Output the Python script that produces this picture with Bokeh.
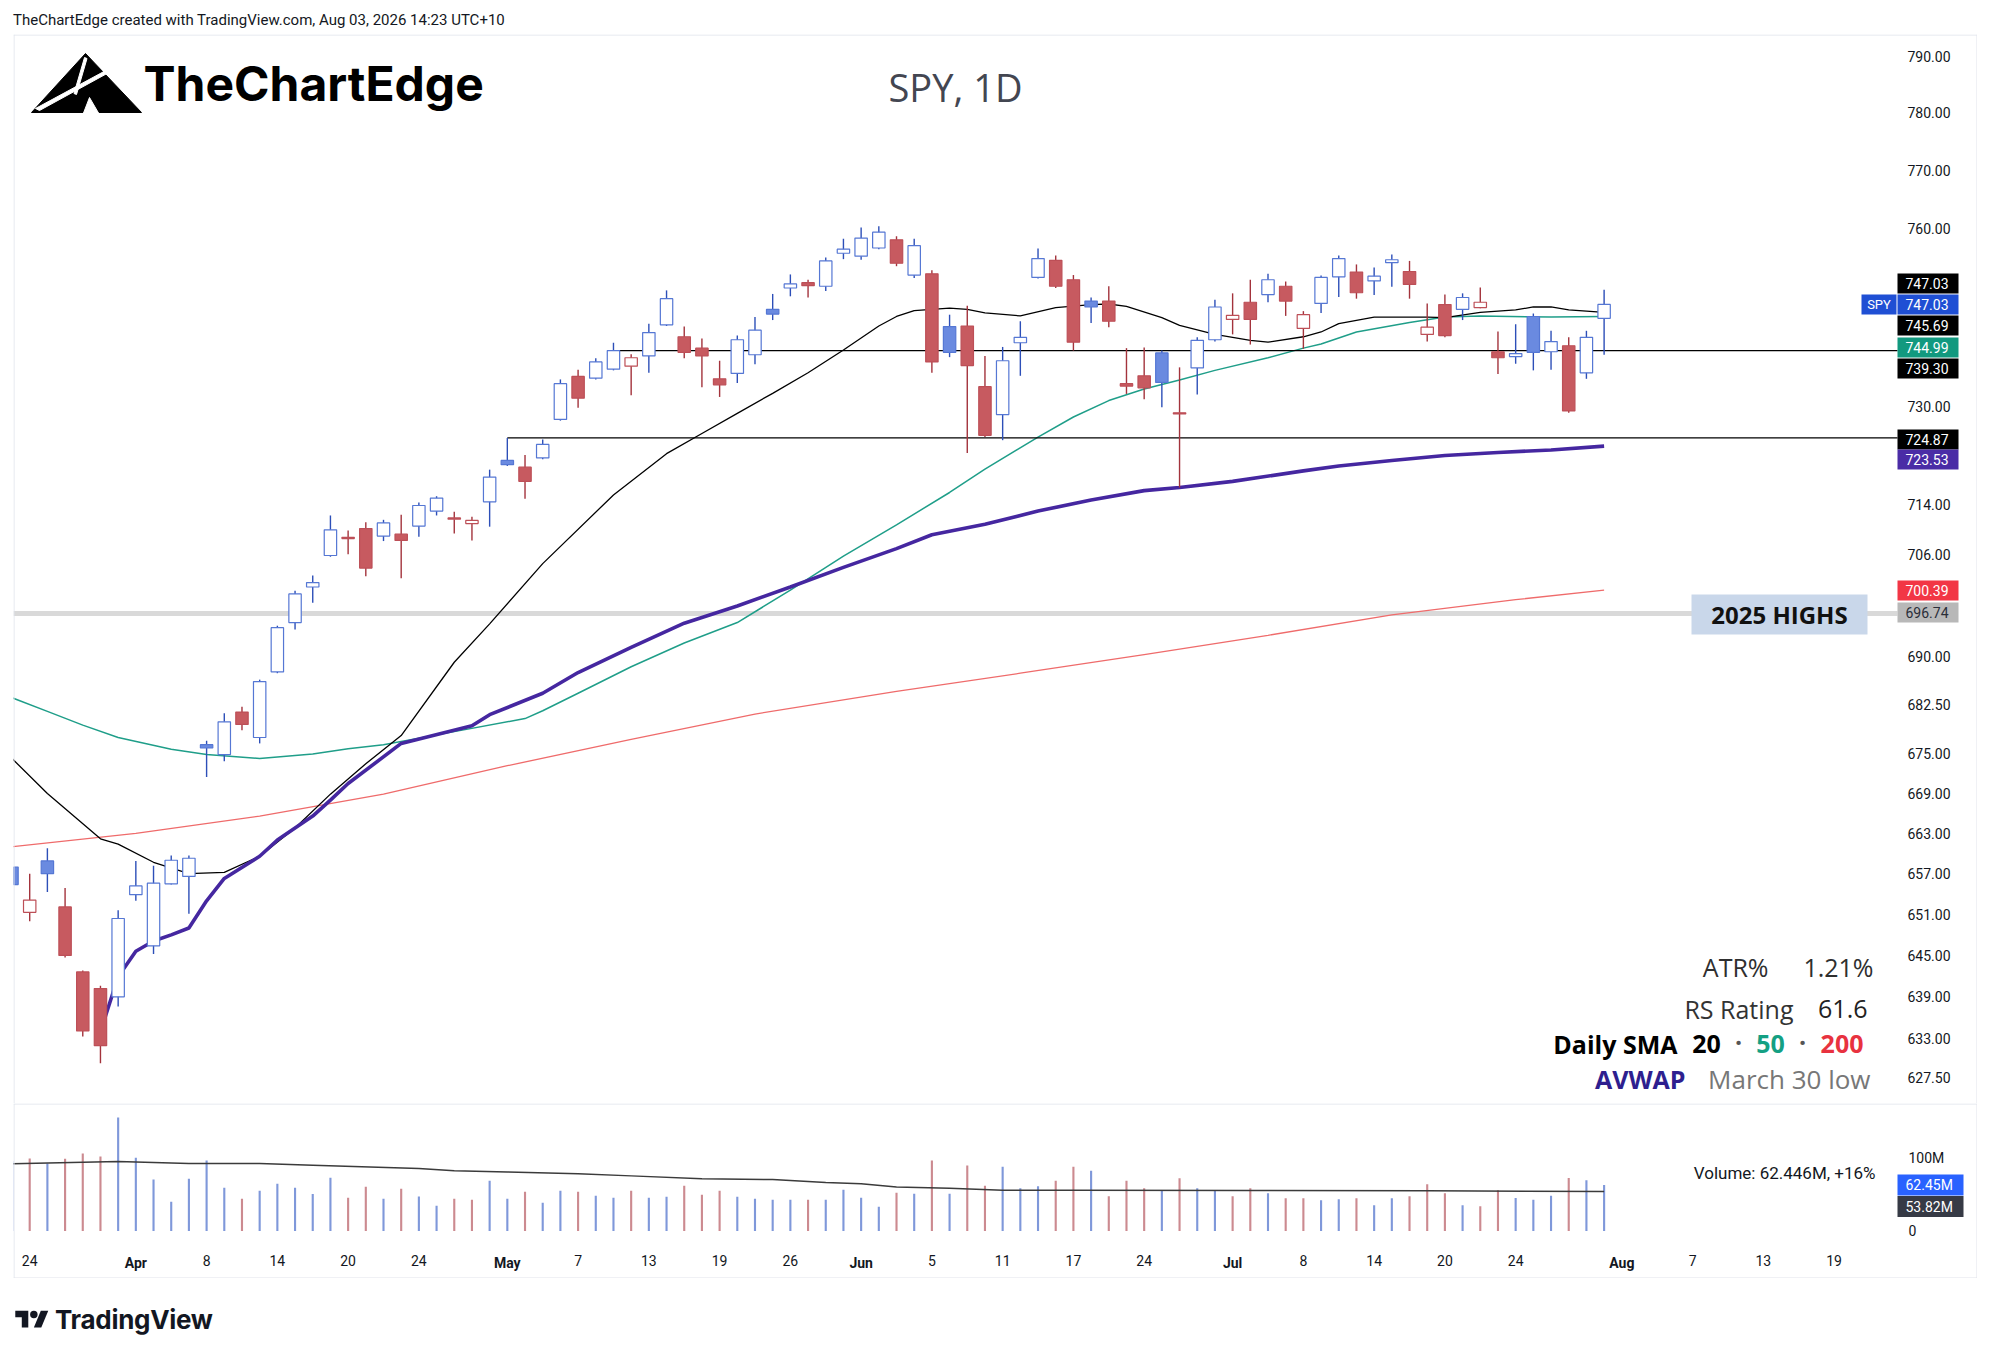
import numpy as np
from bokeh.plotting import figure
from bokeh.models import (Range1d, FixedTicker, NumeralTickFormatter, Label, Span,
                          BoxAnnotation, Div, ColumnDataSource, LinearAxis)
from bokeh.layouts import column
from bokeh.embed import file_html
from bokeh.resources import INLINE
from bokeh.core.properties import value

# ---------------- data ----------------
dates = ["2026-03-23","2026-03-24","2026-03-25","2026-03-26","2026-03-27","2026-03-30","2026-03-31",
         "2026-04-01","2026-04-02","2026-04-06","2026-04-07","2026-04-08","2026-04-09","2026-04-10",
         "2026-04-13","2026-04-14","2026-04-15","2026-04-16","2026-04-17","2026-04-20","2026-04-21",
         "2026-04-22","2026-04-23","2026-04-24","2026-04-27","2026-04-28","2026-04-29","2026-04-30",
         "2026-05-01","2026-05-04","2026-05-05","2026-05-06","2026-05-07","2026-05-08","2026-05-11",
         "2026-05-12","2026-05-13","2026-05-14","2026-05-15","2026-05-18","2026-05-19","2026-05-20",
         "2026-05-21","2026-05-22","2026-05-26","2026-05-27","2026-05-28","2026-05-29","2026-06-01",
         "2026-06-02","2026-06-03","2026-06-04","2026-06-05","2026-06-08","2026-06-09","2026-06-10",
         "2026-06-11","2026-06-12","2026-06-15","2026-06-16","2026-06-17","2026-06-18","2026-06-22",
         "2026-06-23","2026-06-24","2026-06-25","2026-06-26","2026-06-29","2026-06-30","2026-07-01",
         "2026-07-02","2026-07-06","2026-07-07","2026-07-08","2026-07-09","2026-07-10","2026-07-13",
         "2026-07-14","2026-07-15","2026-07-16","2026-07-17","2026-07-20","2026-07-21","2026-07-22",
         "2026-07-23","2026-07-24","2026-07-27","2026-07-28","2026-07-29","2026-07-30","2026-07-31"]

opens = [658.0,651.3,658.9,652.1,642.6,640.2,639.0,653.9,646.4,655.5,656.6,676.4,674.9,681.4,677.5,
         687.6,695.3,700.9,705.9,708.6,710.2,709.0,709.3,710.6,713.0,711.7,711.0,714.5,721.2,720.1,
         721.6,727.9,735.0,734.7,736.2,736.7,738.4,743.6,741.6,739.7,734.6,735.5,738.6,746.2,749.8,
         750.7,750.1,755.7,755.2,756.6,758.0,752.0,752.2,743.3,743.4,733.3,728.7,740.6,751.6,754.5,
         751.2,747.6,747.6,733.8,735.1,738.9,729.0,736.4,741.1,744.5,747.4,748.7,750.1,743.0,747.2,
         751.7,752.5,751.0,754.1,752.6,742.0,747.0,746.2,746.5,739.1,738.3,745.0,739.1,740.1,735.6,744.7]
highs = [659.0,657.0,660.8,654.9,642.8,640.6,651.6,658.9,658.2,659.7,659.7,677.0,681.2,682.2,686.4,
         694.8,700.3,702.7,712.3,709.9,711.2,711.6,712.4,714.4,715.4,712.9,712.1,719.7,724.87,722.1,
         724.6,734.5,736.1,738.0,740.6,738.7,743.8,749.4,743.3,741.3,737.6,741.8,744.9,748.8,752.1,
         751.2,755.0,758.2,760.1,760.3,758.6,758.2,752.8,745.3,746.8,738.4,739.9,744.2,756.5,755.3,
         752.0,748.2,750.1,739.7,739.8,739.3,736.5,741.5,747.8,748.9,751.2,752.2,750.9,745.9,751.9,
         755.3,753.8,753.3,755.5,754.4,747.2,748.7,748.9,749.9,742.5,743.7,745.5,742.6,741.5,742.6,749.5]
lows = [654.5,650.0,654.3,644.7,633.3,629.5,637.6,653.0,645.2,655.4,651.1,671.5,673.9,678.6,676.6,
        687.4,694.2,698.4,705.7,706.1,702.6,708.2,702.3,708.9,712.3,709.4,708.3,710.5,720.3,715.0,
        721.4,727.7,729.8,734.5,736.0,731.9,735.6,743.4,738.0,733.2,731.6,733.9,737.0,744.4,748.4,
        748.2,749.3,754.7,754.6,756.4,753.5,751.5,735.6,738.2,722.4,725.0,724.5,735.1,751.4,749.8,
        739.3,743.9,743.2,732.1,731.2,729.9,716.8,732.0,740.8,742.0,740.3,747.4,745.1,739.6,745.6,
        748.3,748.0,748.6,750.0,748.0,740.8,741.5,744.4,746.4,735.4,737.1,736.0,736.1,729.0,734.6,738.6]
closes = [655.4,653.1,657.0,645.0,634.1,632.0,650.4,655.2,655.6,659.0,659.3,675.9,679.9,679.5,686.1,
          694.5,699.8,701.6,710.0,708.8,703.9,711.1,708.3,713.9,715.1,711.9,711.5,718.5,720.5,717.8,
          723.8,733.8,731.4,737.4,739.3,738.1,742.3,748.0,739.0,738.4,733.6,741.1,742.7,745.4,750.5,
          750.2,754.4,756.4,758.3,759.3,754.0,757.0,737.4,739.0,736.8,725.3,737.6,741.5,754.8,750.1,
          740.7,746.6,744.2,733.4,733.1,734.0,728.8,741.0,746.6,745.2,744.5,751.2,747.6,745.3,751.6,
          754.8,749.0,751.8,754.6,750.4,743.2,741.8,748.2,747.4,738.1,738.8,739.0,740.8,729.3,741.5,747.03]
prior_close = 654.0
volumes_m = [95.0,98.6,91.8,98.2,105.5,101.4,154.4,99.6,69.9,39.7,71.2,95.9,58.9,43.8,54.8,64.4,58.9,
             50.2,72.6,45.2,60.3,43.8,57.5,47.0,34.2,43.8,42.5,68.5,43.8,53.4,38.4,54.8,53.4,47.9,45.2,
             54.8,45.2,46.6,61.6,49.3,54.8,46.6,43.8,42.5,42.5,42.5,42.5,56.2,45.2,32.9,52.1,50.7,95.9,
             50.7,89.0,61.6,87.4,58.2,61.0,68.2,87.4,81.9,47.3,68.2,58.2,55.5,71.9,58.2,55.5,47.3,58.2,
             51.4,44.5,44.5,41.8,43.2,44.5,34.9,44.5,47.3,63.7,51.4,34.9,33.6,55.5,44.8,42.5,47.9,72.2,
             68.9,62.45]

sma20_idx = [0,2,5,6,8,10,12,14,16,18,20,22,25,27,30,34,37,39,41,43,45,47,49,50,51,53,54,55,57,59,61,62,
             63,65,66,68,70,71,73,74,75,77,80,81,83,85,86,87,88,90]
sma20_val = [674.3,669.0,662.2,661.4,658.7,657.0,657.2,659.6,663.8,668.9,673.5,677.8,689.1,695.1,704.6,
             715.6,722.3,725.6,728.9,732.2,735.6,739.4,743.4,745.0,746.0,746.4,746.2,745.6,745.1,746.5,
             747.0,747.1,746.7,744.8,743.5,742.0,741.0,740.7,741.6,742.4,743.8,744.9,744.9,744.8,745.7,
             746.1,746.6,746.6,746.1,745.69]
sma50_idx = [0,2,4,6,9,11,14,17,19,21,25,29,30,32,35,38,41,44,47,50,53,55,58,60,62,64,66,68,71,73,74,76,
             79,81,83,87,90]
sma50_val = [683.6,681.5,679.4,677.5,675.7,674.9,674.3,675.0,675.8,676.4,678.4,680.4,681.6,684.3,688.4,
             692.1,695.3,700.4,705.8,710.8,716.0,719.8,725.0,728.3,731.0,732.9,734.4,736.0,738.1,739.7,
             740.4,742.4,744.0,744.9,745.1,744.9,744.99]
sma200_idx = [0,7,14,21,28,35,42,50,57,64,71,78,85,90]
sma200_val = [661.0,663.0,665.6,668.9,673.2,677.2,681.1,684.6,687.4,690.3,693.3,696.5,698.9,700.39]
avwap_idx = [5,6,7,8,9,10,11,12,14,15,17,18,19,22,26,27,30,32,35,38,41,44,47,50,52,55,58,61,64,66,69,
             73,75,78,81,84,87,90]
avwap_val = [634.0,641.9,645.6,647.1,648.0,649.0,653.0,656.3,659.6,662.0,665.6,668.0,670.5,676.6,679.3,
             681.0,684.3,687.5,691.4,695.2,697.9,700.9,704.0,707.0,709.2,710.9,713.0,714.8,716.3,716.8,
             717.8,719.5,720.3,721.2,722.0,722.5,722.9,723.53]
vol_ma_idx = [0,6,10,14,17,23,25,28,32,35,39,43,46,48,50,53,56,60,70,80,90]
vol_ma_val = [91.4,94.5,91.8,91.8,89.5,85.0,82.0,80.4,78.0,75.0,71.2,70.0,66.0,64.4,60.0,58.0,55.3,55.5,
              55.2,54.6,53.82]

day_tick_idx = [1,11,15,19,23,32,36,40,44,52,56,60,64,73,77,81,85,95,99,103]
day_tick_lab = ["24","8","14","20","24","7","13","19","26","5","11","17","24","8","14","20","24",
                "7","13","19"]
month_tick_idx = [7,28,48,69,91]
month_tick_lab = ["Apr","May","Jun","Jul","Aug"]
price_ticks = [627.5,633,639,645,651,657,663,669,675,682.5,690,706,714,730,760,770,780,790]
vol_ticks = [0, 100]
vol_tick_lab = ["0", "100M"]

level_724 = 724.87
level_724_start = 28
level_739 = 739.30
level_739_start = 34
highs_2025 = 696.74

# price / volume tags on the scales: (text, value-position as drawn, colour, text colour)
price_tags = [("747.03", 283, "#000000", "white"), ("747.03", 304, "#1f4fd4", "white"),
              ("745.69", 325, "#000000", "white"), ("744.99", 347, "#12997f", "white"),
              ("739.30", 368, "#000000", "white"), ("724.87", 439, "#000000", "white"),
              ("723.53", 459, "#4a2ca6", "white"), ("700.39", 590, "#f23645", "white"),
              ("696.74", 612, "#b8b8b8", "#2a2e39")]
vol_tags = [("62.45M", 1184.5, "#2962ff"), ("53.82M", 1206, "#363a45")]

# ---------------- layout helpers (page pixels -> data) ----------------
X0_PX, DX_PX = 11.51, 17.69
Y_REF_PX, Y_REF_P, Y_SCALE = 56.0, 790.0, 4433.0
V_ZERO_PX, V_PX_PER_M = 1230.5, 0.735
FRAME_L, AXIS_X, FRAME_R = 13, 1888, 1977
P_TOP, P_BOT, V_AX, V_BOT = 34, 1103, 1244, 1278


def xd(px):
    return (px - X0_PX) / DX_PX


def yd(py):
    return float(Y_REF_P * np.exp(-(py - Y_REF_PX) / Y_SCALE))


def vd(py):
    return (V_ZERO_PX - py) / V_PX_PER_M


BLUE_LINE, BLUE_FILL, BLUE_WICK = "#5577d4", "#6a8ae0", "#2d4fb8"
RED_LINE, RED_FILL, RED_WICK = "#bd4f57", "#c75a60", "#a3333c"
BORDER = "#e0e3eb"
AX_FONT = "Roboto"

x_idx = list(range(len(dates)))
x_range = Range1d(xd(FRAME_L), xd(FRAME_R))


def style_axis(ax, standoff):
    ax.axis_line_color = None
    ax.major_tick_line_color = None
    ax.minor_tick_line_color = None
    ax.major_tick_out = 0
    ax.major_tick_in = 0
    ax.major_label_standoff = standoff
    ax.major_label_text_font = AX_FONT
    ax.major_label_text_font_size = "14px"
    ax.major_label_text_color = "#131722"


# ---------------- price pane ----------------
p = figure(frame_width=FRAME_R - FRAME_L, frame_height=P_BOT - P_TOP, x_range=x_range,
           y_range=Range1d(yd(P_BOT), yd(P_TOP)), y_axis_type="log", y_axis_location="right",
           x_axis_location=None, toolbar_location=None, output_backend="svg",
           min_border_left=5, min_border_right=0, min_border_top=0, min_border_bottom=0,
           background_fill_color="white", border_fill_color="white", outline_line_color=None)
p.xgrid.visible = False
p.ygrid.visible = False
ya = p.yaxis[0]
ya.ticker = FixedTicker(ticks=price_ticks, minor_ticks=[])
ya.formatter = NumeralTickFormatter(format="0.00")
ya.fixed_location = xd(AXIS_X)
style_axis(ya, 19)

# frame borders
p.add_layout(Span(location=yd(P_TOP + 0.5), dimension="width", line_color=BORDER, line_width=1))
p.add_layout(Span(location=xd(FRAME_L + 0.5), dimension="height", line_color=BORDER, line_width=1))
p.add_layout(Span(location=xd(FRAME_R - 0.5), dimension="height", line_color=BORDER, line_width=1))

# 2025 highs line
p.segment(x0=[xd(FRAME_L)], y0=[highs_2025], x1=[xd(1897)], y1=[highs_2025],
          line_color="#d9d9d9", line_width=5)

# candles
line_c, fill_c, wick_c = [], [], []
prev = prior_close
for o, c in zip(opens, closes):
    up = c > prev
    line_c.append(BLUE_LINE if up else RED_LINE)
    wick_c.append(BLUE_WICK if up else RED_WICK)
    fill_c.append("white" if c > o else (BLUE_FILL if up else RED_FILL))
    prev = c
src = ColumnDataSource(dict(x=x_idx, high=highs, low=lows,
                            top=[max(o, c) for o, c in zip(opens, closes)],
                            bottom=[min(o, c) for o, c in zip(opens, closes)],
                            lc=line_c, fc=fill_c, wc=wick_c))

p.line(sma200_idx, sma200_val, line_color="#ef6b6b", line_width=1.3)
p.line(sma50_idx, sma50_val, line_color="#1f9e89", line_width=1.5)
p.line(sma20_idx, sma20_val, line_color="#000000", line_width=1.3)
p.line(avwap_idx, avwap_val, line_color="#4527a0", line_width=3.6)
p.segment(x0=[level_724_start, level_739_start], y0=[level_724, level_739],
          x1=[xd(1897), xd(1897)], y1=[level_724, level_739], line_color="#000000", line_width=1.3)

p.segment(x0="x", y0="low", x1="x", y1="high", line_color="wc", line_width=1.4, source=src)
p.vbar(x="x", width=0.7, top="top", bottom="bottom", fill_color="fc", line_color="lc",
       line_width=1.2, source=src)


# logo (decoration)
def poly(pts):
    return [xd(a) for a, b in pts], [yd(b) for a, b in pts]


lx, ly = poly([(31, 112), (85, 53), (141, 112)])
p.patch(lx, ly, fill_color="black", line_color="black")
for pts in ([(35, 108), (39, 110), (112, 70), (109, 68)],
            [(84, 57), (86.5, 58), (76, 94), (73.5, 93)],
            [(83, 112.5), (89, 97), (98, 112.5)]):
    wx, wy = poly(pts)
    p.patch(wx, wy, fill_color="white", line_color="white")
p.add_layout(Label(x=xd(143), y=yd(83), text="TheChartEdge", text_font="Inter",
                   text_font_style="bold", text_font_size="48px", text_color="black",
                   text_baseline="middle", text_align="left"))

# watermark title
p.add_layout(Label(x=xd(955), y=yd(86), text="SPY, 1D", text_font="Open Sans",
                   text_font_size="38px", text_color="#434651", text_align="center",
                   text_baseline="middle"))

# 2025 highs box
p.add_layout(BoxAnnotation(left=xd(1691), right=xd(1867), bottom=yd(634), top=yd(594),
                           fill_color="#c9d7ea", fill_alpha=1.0, line_color=None))
p.add_layout(Label(x=xd(1779), y=yd(614), text="2025 HIGHS", text_font="Open Sans",
                   text_font_style="bold", text_font_size="24px", text_color="#111111",
                   text_align="center", text_baseline="middle"))


# info block
def info(px, py, txt, color, size="25px", style="normal", align="center"):
    p.add_layout(Label(x=xd(px), y=yd(py), text=txt, text_font="Open Sans",
                       text_font_size=size, text_font_style=style, text_color=color,
                       text_align=align, text_baseline="middle"))


info(1768, 966, "ATR%", "#2f2f2f", align="right")
info(1873, 966, "1.21%", "#2f2f2f", align="right")
info(1793, 1008, "RS Rating", "#333333", align="right")
info(1867, 1008, "61.6", "#222222", align="right")
info(1677, 1043, "Daily SMA", "#000000", style="bold", align="right")
info(1706, 1043, "20", "#000000", style="bold")
info(1738, 1041, "·", "#555555", style="bold")
info(1770, 1043, "50", "#14a083", style="bold")
info(1802, 1041, "·", "#555555", style="bold")
info(1863, 1043, "200", "#e8323f", style="bold", align="right")
info(1685, 1078, "AVWAP", "#2e1f8f", style="bold", align="right")
info(1870, 1078, "March 30 low", "#777777", size="26px", align="right")

# price tags on the scale
p.rect(x=[xd(1927.5)] * len(price_tags), y=[yd(t[1]) for t in price_tags], width=61, height=20,
       width_units="screen", height_units="screen",
       fill_color=[t[2] for t in price_tags], line_color=None)
p.text(x=[xd(1905)] * len(price_tags), y=[yd(t[1]) for t in price_tags],
       text=[t[0] for t in price_tags], text_color=[t[3] for t in price_tags],
       text_font=value(AX_FONT), text_font_size=value("14px"), text_align="left",
       text_baseline="middle")
p.rect(x=[xd(1878.5)], y=[yd(304)], width=35, height=20, width_units="screen",
       height_units="screen", fill_color="#1f4fd4", line_color=None)
p.text(x=[xd(1878.5)], y=[yd(304)], text=["SPY"], text_color="white", text_font=value(AX_FONT),
       text_font_size=value("13px"), text_align="center", text_baseline="middle")

# ---------------- volume pane ----------------
v = figure(frame_width=FRAME_R - FRAME_L, frame_height=V_BOT - P_BOT, x_range=x_range,
           y_range=Range1d(vd(V_BOT), vd(P_BOT)), y_axis_location="right",
           toolbar_location=None, output_backend="svg",
           min_border_left=5, min_border_right=0, min_border_top=0, min_border_bottom=0,
           background_fill_color="white", border_fill_color="white", outline_line_color=None)
v.xgrid.visible = False
v.ygrid.visible = False
vcol = ["#7f98da" if lc == BLUE_LINE else "#cc8a90" for lc in line_c]
v.vbar(x=x_idx, top=volumes_m, bottom=0, width=0.12, fill_color=vcol, line_color=None)
v.line(vol_ma_idx, vol_ma_val, line_color="#3b3b3b", line_width=1.5)
for loc, dim in ((vd(P_BOT + 0.5), "width"), (vd(V_BOT - 0.5), "width"),
                 (xd(FRAME_L + 0.5), "height"), (xd(FRAME_R - 0.5), "height")):
    v.add_layout(Span(location=loc, dimension=dim, line_color=BORDER, line_width=1))

vy = v.yaxis[0]
vy.ticker = FixedTicker(ticks=vol_ticks, minor_ticks=[])
vy.major_label_overrides = {t: s for t, s in zip(vol_ticks, vol_tick_lab)}
vy.fixed_location = xd(AXIS_X)
style_axis(vy, 20)

vx = v.xaxis[0]
vx.ticker = FixedTicker(ticks=day_tick_idx, minor_ticks=[])
vx.major_label_overrides = {t: s for t, s in zip(day_tick_idx, day_tick_lab)}
vx.fixed_location = vd(V_AX)
style_axis(vx, 10)
mx = LinearAxis(fixed_location=vd(V_AX))
mx.ticker = FixedTicker(ticks=month_tick_idx, minor_ticks=[])
mx.major_label_overrides = {t: s for t, s in zip(month_tick_idx, month_tick_lab)}
style_axis(mx, 10)
mx.major_label_text_font_style = "bold"
v.add_layout(mx, "below")

v.add_layout(Label(x=xd(1875), y=vd(1172), text="Volume: 62.446M, +16%", text_font=AX_FONT,
                   text_font_size="17px", text_color="#131722", text_align="right",
                   text_baseline="middle"))
v.rect(x=[xd(1930)] * len(vol_tags), y=[vd(t[1]) for t in vol_tags], width=66, height=21,
       width_units="screen", height_units="screen", fill_color=[t[2] for t in vol_tags],
       line_color=None)
v.text(x=[xd(1905)] * len(vol_tags), y=[vd(t[1]) for t in vol_tags], text=[t[0] for t in vol_tags],
       text_color="white", text_font=value(AX_FONT), text_font_size=value("14px"),
       text_align="left", text_baseline="middle")

# ---------------- header / footer ----------------
header = Div(text="TheChartEdge created with TradingView.com, Aug 03, 2026 14:23 UTC+10",
             width=1969, height=26, margin=(0, 0, 0, 0),
             styles={"font-family": "Roboto", "font-size": "15px", "line-height": "24px",
                     "padding-left": "5px", "color": "#131722"})
tv_svg = ('<svg width="38" height="26" viewBox="0 0 36 28" style="display:block">'
          '<path d="M14 22H7V11H0V4h14v18z" fill="#131722"/>'
          '<path d="M28 22h-8l7.5-18h8L28 22z" fill="#131722"/>'
          '<circle cx="20" cy="8" r="4" fill="#131722"/></svg>')
footer = Div(text=('<div style="display:flex;align-items:center;gap:4px;margin-top:23px;'
                   'margin-left:5px">' + tv_svg +
                   '<span style="font-family:Inter;font-weight:700;font-size:26px;'
                   'color:#131722;letter-spacing:-0.3px">TradingView</span></div>'),
             width=1969, height=60, margin=(0, 0, 0, 0))

layout = column(header, p, v, footer, spacing=0, margin=(8, 0, 0, 8))
open("out.html", "w").write(file_html(layout, INLINE))
